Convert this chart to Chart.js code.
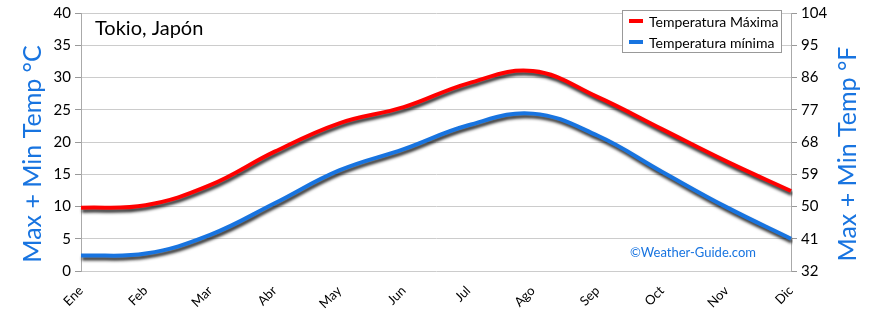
<!DOCTYPE html>
<html><head><meta charset="utf-8">
<script src="https://cdn.jsdelivr.net/npm/chart.js@4"></script>
<style>html,body{margin:0;padding:0;background:#fff}#wrap{width:870px;height:312px}</style>
</head><body><div id="wrap"><canvas id="c" width="870" height="312"></canvas></div>
<script>
const months = ["Ene","Feb","Mar","Abr","May","Jun","Jul","Ago","Sep","Oct","Nov","Dic"];
const maxTemp = [9.8, 10.2, 13.3, 18.5, 22.9, 25.4, 29.1, 31.0, 27.0, 22.0, 17.0, 12.4];
const minTemp = [2.4, 2.7, 5.6, 10.5, 15.6, 18.9, 22.6, 24.4, 21.0, 15.4, 9.9, 5.0];
const celsiusTicks = [0,5,10,15,20,25,30,35,40];
const fahrenheitTicks = [32,41,50,59,68,77,86,95,104];
const seriesLabels = ["Temperatura Máxima","Temperatura mínima"];
const chartTitle = "Tokio, Japón";
const leftTitle = "Max + Min Temp °C";
const rightTitle = "Max + Min Temp °F";
const credit = "©Weather-Guide.com";

const FONT = "Lato, 'Open Sans', sans-serif";
const RED = "#ff0000", BLUE = "#1874e0";

const shadowPlugin = {
  id: 'shadow',
  beforeDatasetDraw(chart){ const c=chart.ctx; c.save(); c.shadowColor='rgba(0,0,0,0.8)'; c.shadowBlur=3; c.shadowOffsetX=1; c.shadowOffsetY=3; },
  afterDatasetDraw(chart){ chart.ctx.restore(); }
};
const decorPlugin = {
  id: 'decor',
  afterDraw(chart){
    const c = chart.ctx, a = chart.chartArea;
    c.save();
    // title
    c.fillStyle = '#000'; c.font = "20px " + FONT; c.textBaseline='alphabetic'; c.textAlign='left';
    c.fillText(chartTitle, a.left + 14, a.top + 22);
    // axis titles
    c.fillStyle = BLUE; c.font = "25px " + FONT; c.textAlign='center'; c.textBaseline='middle';
    c.save(); c.translate(33, (a.top+a.bottom)/2 + 12); c.rotate(-Math.PI/2); c.fillText(leftTitle,0,0); c.restore();
    c.save(); c.translate(848, (a.top+a.bottom)/2 + 12); c.rotate(-Math.PI/2); c.fillText(rightTitle,0,0); c.restore();
    // credit
    c.font = "13px " + FONT; c.fillStyle = BLUE;
    c.fillText(credit, 693, 253);
    // legend
    const lx = 622, ly = 10, lw = 159, lh = 42;
    c.fillStyle='#fff'; c.fillRect(lx,ly,lw,lh);
    c.strokeStyle='#999'; c.lineWidth=1; c.strokeRect(lx+0.5,ly+0.5,lw,lh);
    const cols=[RED,BLUE];
    c.font = "14px " + FONT; c.textAlign='left'; c.textBaseline='middle';
    seriesLabels.forEach((t,i)=>{
      const yy = ly + 11 + i*21;
      c.strokeStyle = cols[i]; c.lineWidth = 4; c.beginPath(); c.moveTo(lx+7,yy); c.lineTo(lx+21,yy); c.stroke();
      c.fillStyle='#000'; c.fillText(t, lx+27, yy+1);
    });
    c.restore();
  }
};

new Chart(document.getElementById('c'), {
  type: 'line',
  data: {
    labels: months,
    datasets: [
      {label: seriesLabels[0], data: maxTemp, borderColor: RED, borderWidth: 4, pointRadius: 0, tension: 0.4, fill: false, yAxisID: 'y'},
      {label: seriesLabels[1], data: minTemp, borderColor: BLUE, borderWidth: 4, pointRadius: 0, tension: 0.4, fill: false, yAxisID: 'y'}
    ]
  },
  options: {
    responsive: false, animation: false, devicePixelRatio: 1,
    layout: {padding: {top: 9, left: 0, right: 0, bottom: 0}},
    plugins: {legend: {display: false}, tooltip: {enabled: false}},
    scales: {
      x: {
        grid: {display: false},
        border: {display: false},
        ticks: {color: '#000', font: {family: FONT, size: 13}, maxRotation: 45, minRotation: 45, padding: 4},
        afterFit(s){ s.height = 41; }
      },
      y: {
        position: 'left', min: 0, max: 40,
        afterBuildTicks(s){ s.ticks = celsiusTicks.map(v=>({value:v})); },
        grid: {color: '#cccccc', lineWidth: 1, tickLength: 6, tickColor: '#999'},
        border: {display: true, color: '#aaa'},
        ticks: {color: '#000', font: {family: FONT, size: 15}, padding: 4},
        afterFit(s){ s.width = 81; }
      },
      y2: {
        position: 'right', min: 32, max: 104,
        afterBuildTicks(s){ s.ticks = fahrenheitTicks.map(v=>({value:v})); },
        grid: {drawOnChartArea: false, tickLength: 6, tickColor: '#999'},
        border: {display: true, color: '#aaa'},
        ticks: {color: '#000', font: {family: FONT, size: 15}, padding: 4},
        afterFit(s){ s.width = 79; }
      }
    }
  },
  plugins: [shadowPlugin, decorPlugin]
});
</script></body></html>
